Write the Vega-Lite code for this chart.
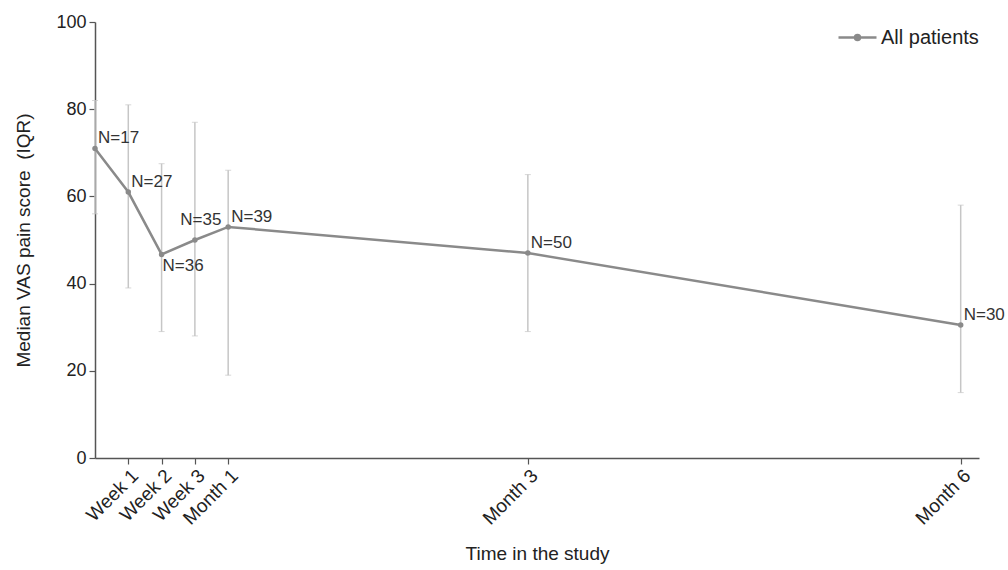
{
  "$schema": "https://vega.github.io/schema/vega-lite/v6.json",
  "width": 884,
  "height": 436,
  "autosize": {"type": "none"},
  "padding": {"left": 95, "top": 22, "right": 29, "bottom": 112},
  "background": "white",
  "config": {
    "view": {"stroke": null},
    "font": "Liberation Sans",
    "axis": {"grid": false, "domainColor": "#555555", "tickColor": "#555555", "labelColor": "#222222", "titleColor": "#222222", "labelFontSize": 18, "titleFontSize": 19, "titleFontWeight": "normal", "domainWidth": 1.5, "tickWidth": 1.2, "labelFont": "Liberation Sans", "titleFont": "Liberation Sans"}
  },
  "data": {
    "values": [
      {"week": 0, "label": "Baseline", "median": 71, "q1": 56, "q3": 82, "n": "N=17"},
      {"week": 1, "label": "Week 1", "median": 61, "q1": 39, "q3": 81, "n": "N=27"},
      {"week": 2, "label": "Week 2", "median": 46.7, "q1": 29, "q3": 67.5, "n": "N=36"},
      {"week": 3, "label": "Week 3", "median": 50, "q1": 28, "q3": 77, "n": "N=35"},
      {"week": 4, "label": "Month 1", "median": 53, "q1": 19, "q3": 66, "n": "N=39"},
      {"week": 13, "label": "Month 3", "median": 47, "q1": 29, "q3": 65, "n": "N=50"},
      {"week": 26, "label": "Month 6", "median": 30.5, "q1": 15, "q3": 58, "n": "N=30"}
    ]
  },
  "encoding": {
    "x": {
      "field": "week", "type": "quantitative",
      "scale": {"domain": [0, 26.55], "nice": false, "zero": false},
      "axis": {
        "title": "Time in the study", "titlePadding": 17, "titleFontSize": 19,
        "values": [1, 2, 3, 4, 13, 26],
        "labelAngle": -45, "labelOverlap": false, "labelFlush": false, "labelBound": false, "labelFontSize": 19,
        "labelExpr": "{'1':'Week 1','2':'Week 2','3':'Week 3','4':'Month 1','13':'Month 3','26':'Month 6'}[datum.value]",
        "tickSize": 6, "labelPadding": 2
      }
    }
  },
  "layer": [
    {
      "mark": {"type": "errorbar", "ticks": {"size": 6, "color": "#c6c6c6"}, "rule": {"color": "#c6c6c6", "strokeWidth": 1.5}},
      "encoding": {
        "y": {"field": "q1", "type": "quantitative",
          "scale": {"domain": [0, 100], "nice": false},
          "axis": {"title": "Median VAS pain score\u00a0 (IQR)", "values": [0, 20, 40, 60, 80, 100], "tickSize": 6, "labelPadding": 3, "titlePadding": 22}},
        "y2": {"field": "q3"}
      }
    },
    {
      "mark": {"type": "line", "strokeWidth": 2.5, "point": {"size": 30, "filled": true, "color": "#8a8a8a"}, "color": "#8a8a8a"},
      "encoding": {
        "y": {"field": "median", "type": "quantitative"},
        "color": {"datum": "All patients", "type": "nominal",
          "scale": {"range": ["#8a8a8a"]},
          "legend": {"title": null, "orient": "none", "legendX": 742, "legendY": -5, "labelFontSize": 20, "labelFont": "Liberation Sans", "labelColor": "#222222", "symbolSize": 1444, "symbolStrokeWidth": 2.5,
            "symbolType": "M-1,0H1M0.13,0A0.13,0.13 0 1,1 -0.13,0A0.13,0.13 0 1,1 0.13,0Z",
            "symbolFillColor": "#8a8a8a", "symbolStrokeColor": "#8a8a8a", "labelOffset": 3}}
      }
    },
    {
      "transform": [{"filter": "datum.week != 2 && datum.week != 3"}],
      "mark": {"type": "text", "align": "left", "baseline": "alphabetic", "dx": 3, "dy": -5, "fontSize": 17, "color": "#333333"},
      "encoding": {"y": {"field": "median", "type": "quantitative"}, "text": {"field": "n"}}
    },
    {
      "transform": [{"filter": "datum.week == 3"}],
      "mark": {"type": "text", "align": "center", "baseline": "alphabetic", "dx": 6, "dy": -15, "fontSize": 17, "color": "#333333"},
      "encoding": {"y": {"field": "median", "type": "quantitative"}, "text": {"field": "n"}}
    },
    {
      "transform": [{"filter": "datum.week == 2"}],
      "mark": {"type": "text", "align": "left", "baseline": "top", "dx": 1, "dy": 4, "fontSize": 17, "color": "#333333"},
      "encoding": {"y": {"field": "median", "type": "quantitative"}, "text": {"field": "n"}}
    }
  ]
}
